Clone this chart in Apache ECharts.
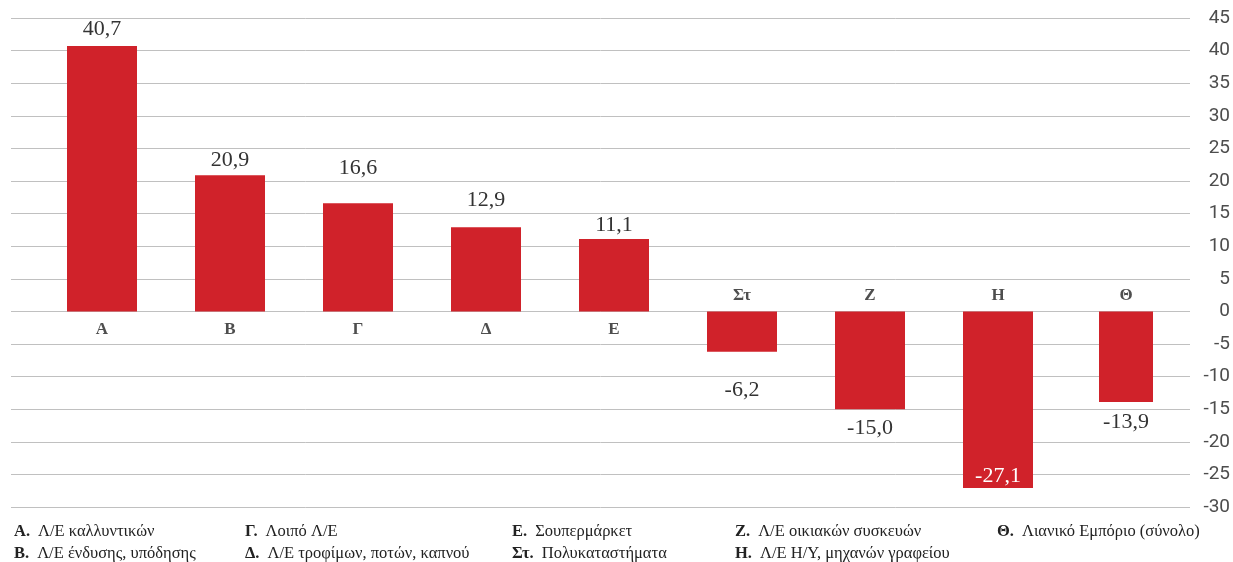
<!DOCTYPE html>
<html><head><meta charset="utf-8">
<script src="https://cdn.jsdelivr.net/npm/echarts@6/dist/echarts.min.js"></script>
<style>html,body{margin:0;padding:0;background:#fff}#c{width:1233px;height:562px}</style>
</head><body><div id="c"></div>
<script>
// ---- data ----
const categories = ['Α','Β','Γ','Δ','Ε','Στ','Ζ','Η','Θ'];
const values = [40.7, 20.9, 16.6, 12.9, 11.1, -6.2, -15.0, -27.1, -13.9];
const yMin = -30, yMax = 45, yStep = 5;
const legendKeys = ['Α.','Β.','Γ.','Δ.','Ε.','Στ.','Ζ.','Η.','Θ.'];
const legendNames = ['Λ/Ε καλλυντικών','Λ/Ε ένδυσης, υπόδησης','Λοιπό Λ/Ε','Λ/Ε τροφίμων, ποτών, καπνού',
  'Σουπερμάρκετ','Πολυκαταστήματα','Λ/Ε οικιακών συσκευών','Λ/Ε Η/Υ, μηχανών γραφείου','Λιανικό Εμπόριο (σύνολο)'];

// ---- styling ----
const RED = '#D0222A';
const labelDist = [6, 4, 24, 16, 3, 27, 8, 1, 9];   // per-bar label spacing (style only)
const insideIdx = 7;                                 // label drawn inside the bar (white)
const wideLast = categories.length - 1;              // last bar drawn narrower
const legendColX = [14, 245, 512, 735, 997];
const legendRowY = [531, 553];

const fmt = v => v.toFixed(1).replace('.', ',');

function barItem(v, i) {
  const inside = i === insideIdx;
  return {
    value: v,
    label: {
      show: true,
      position: inside ? 'insideBottom' : (v >= 0 ? 'top' : 'bottom'),
      distance: labelDist[i],
      color: inside ? '#ffffff' : '#333333',
      formatter: p => fmt(p.value)
    }
  };
}
const mainData = values.map((v, i) => i === wideLast ? '-' : barItem(v, i));
const lastData = values.map((v, i) => i === wideLast ? barItem(v, i) : '-');
const catData = values.map((v, i) => ({
  value: 0,
  label: { position: v >= 0 ? 'bottom' : 'top', distance: v >= 0 ? 10 : 7 }
}));

const labelFont = { fontFamily: 'Liberation Serif', fontSize: 22 };

const graphics = [];
legendKeys.forEach((k, i) => {
  const col = Math.floor(i / 2), row = i % 2;
  graphics.push({
    type: 'text', left: legendColX[col], top: legendRowY[row] - 8,
    style: {
      text: '{k|' + k + '}{n|' + legendNames[i] + '}',
      rich: {
        k: { fontFamily: 'Liberation Serif', fontSize: 16.5, fontWeight: 'bold', fill: '#222', padding: [0, 8, 0, 0] },
        n: { fontFamily: 'Liberation Serif', fontSize: 16.5, fill: '#222' }
      }
    }
  });
});

const chart = echarts.init(document.getElementById('c'), null, { renderer: 'canvas' });
chart.setOption({
  animation: false,
  backgroundColor: '#ffffff',
  grid: [
    { left: 38, right: 43, top: 18, bottom: 55 },
    { left: 11, right: 41, top: 18, bottom: 55 }
  ],
  xAxis: [
    { type: 'category', data: categories, gridIndex: 0, show: false },
    { type: 'category', data: categories, gridIndex: 0, show: false },
    { type: 'value', gridIndex: 1, show: false, min: 0, max: 1 }
  ],
  yAxis: [
    { type: 'value', gridIndex: 0, min: yMin, max: yMax, interval: yStep, show: false },
    {
      type: 'value', gridIndex: 1, position: 'right', min: yMin, max: yMax, interval: yStep,
      axisLine: { show: false }, axisTick: { show: false },
      splitLine: { lineStyle: { color: '#C0C0C0', width: 1 } },
      axisLabel: { align: 'right', margin: 40, color: '#4d4d4d', fontFamily: 'Roboto', fontSize: 19 }
    }
  ],
  series: [
    {
      type: 'bar', xAxisIndex: 0, yAxisIndex: 0, data: mainData, barWidth: 70,
      itemStyle: { color: RED }, label: labelFont
    },
    {
      type: 'bar', xAxisIndex: 1, yAxisIndex: 0, data: lastData, barWidth: 54,
      itemStyle: { color: RED }, label: labelFont
    },
    {
      type: 'scatter', xAxisIndex: 0, yAxisIndex: 0, data: catData, symbolSize: 0,
      label: {
        show: true, color: '#222',
        fontFamily: 'Liberation Serif', fontSize: 17, fontWeight: 'bold',
        formatter: p => categories[p.dataIndex]
      },
      z: 5
    }
  ],
  graphic: graphics
});
</script>
</body></html>
